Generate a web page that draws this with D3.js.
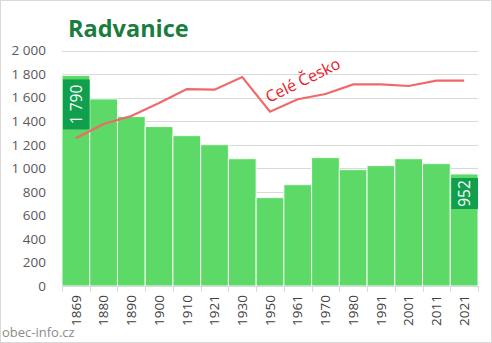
<!DOCTYPE html>
<html><head><meta charset="utf-8">
<script src="https://cdn.jsdelivr.net/npm/d3@7"></script>
<style>body{margin:0;background:#fff}svg{display:block}</style>
</head><body>
<script>
const years = ["1869","1880","1890","1900","1910","1921","1930","1950","1961","1970","1980","1991","2001","2011","2021"];
const population = [1790,1590,1440,1355,1278,1201,1082,751,861,1091,989,1023,1082,1040,952];
const czechScaled = [1255,1377,1445,1555,1674,1669,1776,1482,1587,1632,1714,1714,1700,1745,1745];
const yTicks = [0,200,400,600,800,1000,1200,1400,1600,1800,2000];
const title = "Radvanice";
const lineLabel = "Celé Česko";
const source = "obec-info.cz";

const W = 492, H = 343;
const svg = d3.select("body").append("svg").attr("width", W).attr("height", H);
svg.append("rect").attr("x",0.5).attr("y",0.5).attr("width",W-1).attr("height",H-1)
  .attr("fill","#fff").attr("stroke","#d9d9d9");

const x = d3.scaleBand().domain(years).range([62,478]).padding(0);
const y = d3.scaleLinear().domain([0,2000]).range([286,50.7]);
const font = "'Open Sans', 'DejaVu Sans', sans-serif";

// gridlines
svg.append("g").selectAll("line").data(yTicks.slice(1)).join("line")
  .attr("x1",62).attr("x2",478).attr("y1",d=>Math.round(y(d))+0.5).attr("y2",d=>Math.round(y(d))+0.5)
  .attr("stroke","#d9d9d9").attr("stroke-width",1);

// y axis labels
svg.append("g").selectAll("text").data(yTicks).join("text")
  .attr("x",46).attr("y",d=>y(d)).attr("dy","0.35em").attr("text-anchor","end")
  .attr("font-family",font).attr("font-size",13.5).attr("fill","#595959")
  .text(d=>d3.format(",")(d).replace(/,/g," "));

// bars
svg.append("g").selectAll("rect").data(years).join("rect")
  .attr("x",d=>x(d)).attr("width",x.bandwidth())
  .attr("y",(d,i)=>y(population[i])).attr("height",(d,i)=>y(0)-y(population[i]))
  .attr("fill","#5cd966").attr("stroke","#f4fff4").attr("stroke-width",1);

// x axis
const xAxis = svg.append("g").attr("transform","translate(0,286)");
xAxis.append("line").attr("x1",62).attr("x2",478).attr("y1",0.5).attr("y2",0.5).attr("stroke","#d9d9d9");
const bounds = years.map(d=>x(d)).concat([x.range()[1]]);
xAxis.selectAll("line.tick").data(bounds).join("line").attr("class","tick")
  .attr("x1",d=>Math.round(d)+0.5).attr("x2",d=>Math.round(d)+0.5).attr("y1",0).attr("y2",6)
  .attr("stroke","#d9d9d9");
xAxis.selectAll("text").data(years).join("text")
  .attr("transform",d=>`translate(${x(d)+x.bandwidth()/2},9) rotate(-90)`)
  .attr("text-anchor","end").attr("dy","0.35em")
  .attr("font-family",font).attr("font-size",13.5).attr("fill","#404040")
  .text(d=>d);

// line
const line = d3.line().x((d,i)=>x(years[i])+x.bandwidth()/2).y(d=>y(d));
svg.append("path").datum(czechScaled).attr("d",line)
  .attr("fill","none").attr("stroke","#f0686a").attr("stroke-width",2.2);

svg.append("text").attr("transform","translate(269,103) rotate(-26)")
  .attr("font-family",font).attr("font-size",16).attr("fill","#e8202a").text(lineLabel);

// value labels
function valueLabel(i, txt, boxH){
  const bx = x(years[i])+1, bw = x.bandwidth()-1;
  const top = y(population[i])+4;
  const g = svg.append("g");
  g.append("rect").attr("x",bx).attr("y",top).attr("width",bw).attr("height",boxH).attr("fill","#10a04d");
  g.append("text").attr("transform",`translate(${bx+bw/2},${top+boxH/2}) rotate(-90)`)
    .attr("text-anchor","middle").attr("dy","0.36em")
    .attr("font-family",font).attr("font-size",15.5).attr("fill","#fff").text(txt);
}
valueLabel(0,"1 790",50);
valueLabel(14,"952",31);

// title
svg.append("text").attr("x",68).attr("y",37).attr("font-family",font).attr("font-weight","bold")
  .attr("font-size",23.5).attr("fill","#1a7d40").text(title);

svg.append("text").attr("x",2).attr("y",337).attr("font-family",font).attr("font-size",13)
  .attr("fill","#8c8c8c").text(source);
</script>
</body></html>
